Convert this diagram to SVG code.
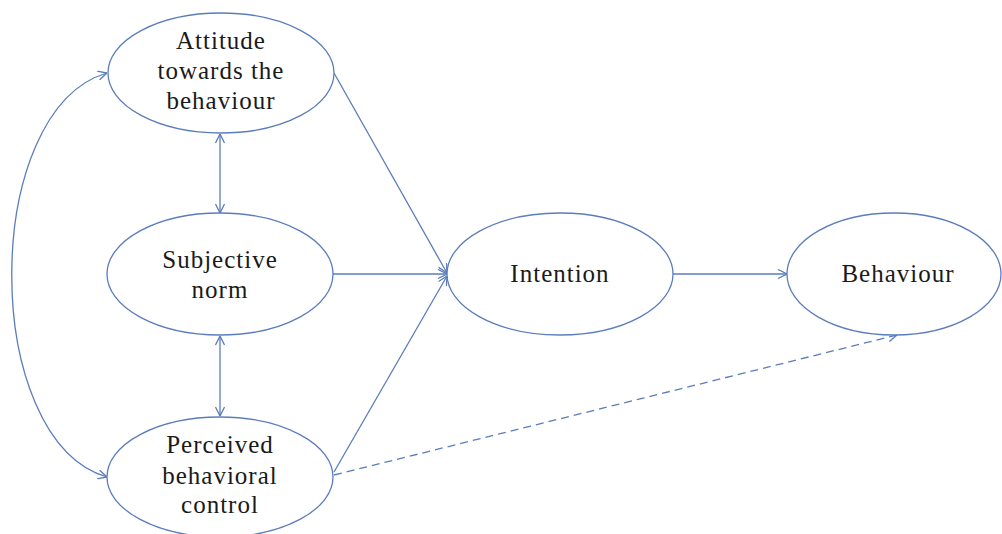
<svg xmlns="http://www.w3.org/2000/svg" width="1002" height="534" viewBox="0 0 1002 534">
<style>
.node ellipse{fill:#fff;stroke:#5b7dbb;stroke-width:1.3}
.node text{font-family:"Liberation Serif","Times New Roman",serif;font-size:25px;fill:#1a1a1a;text-anchor:middle;letter-spacing:1px}
.edge{fill:none;stroke:#5b7dbb;stroke-width:1.3}
.dash{stroke-dasharray:8 5}
</style>
<defs>
<marker id="ah" viewBox="0 0 10 10" refX="10" refY="5" markerWidth="10" markerHeight="10" markerUnits="userSpaceOnUse" orient="auto-start-reverse">
<path d="M1,0.5 L10,5 L1,9.5" fill="none" stroke="#5b7dbb" stroke-width="1.3"/>
</marker>
</defs>
<rect width="1002" height="534" fill="#fff"/>
<g id="connectors">
<path class="edge" d="M334,73 L447,273" marker-end="url(#ah)"/>
<path class="edge" d="M333,274 L447,274" marker-end="url(#ah)"/>
<path class="edge" d="M334,472 L447,276" marker-end="url(#ah)"/>
<path class="edge" d="M673,274 L787,274" marker-end="url(#ah)"/>
<path class="edge dash" d="M334,475 L897,335" marker-end="url(#ah)"/>
<path class="edge" d="M220,134 L220,213" marker-start="url(#ah)" marker-end="url(#ah)"/>
<path class="edge" d="M220,336 L220,416" marker-start="url(#ah)" marker-end="url(#ah)"/>
<path class="edge" d="M107,73 C-20,110 -20,440 107,477" marker-start="url(#ah)" marker-end="url(#ah)"/>
</g>
<g id="attitude" class="node">
<ellipse cx="221" cy="73" rx="113" ry="60"/>
<text x="221" y="49">Attitude</text>
<text x="221" y="79">towards the</text>
<text x="221" y="109">behaviour</text>
</g>
<g id="subjective-norm" class="node">
<ellipse cx="220" cy="274" rx="113" ry="61"/>
<text x="220" y="268">Subjective</text>
<text x="220" y="298">norm</text>
</g>
<g id="pbc" class="node">
<ellipse cx="220" cy="477" rx="113" ry="60"/>
<text x="220" y="453">Perceived</text>
<text x="220" y="484">behavioral</text>
<text x="220" y="513">control</text>
</g>
<g id="intention" class="node">
<ellipse cx="560" cy="274" rx="113" ry="61"/>
<text x="560" y="282">Intention</text>
</g>
<g id="behaviour" class="node">
<ellipse cx="894" cy="274" rx="107" ry="61"/>
<text x="898" y="282">Behaviour</text>
</g>
</svg>
